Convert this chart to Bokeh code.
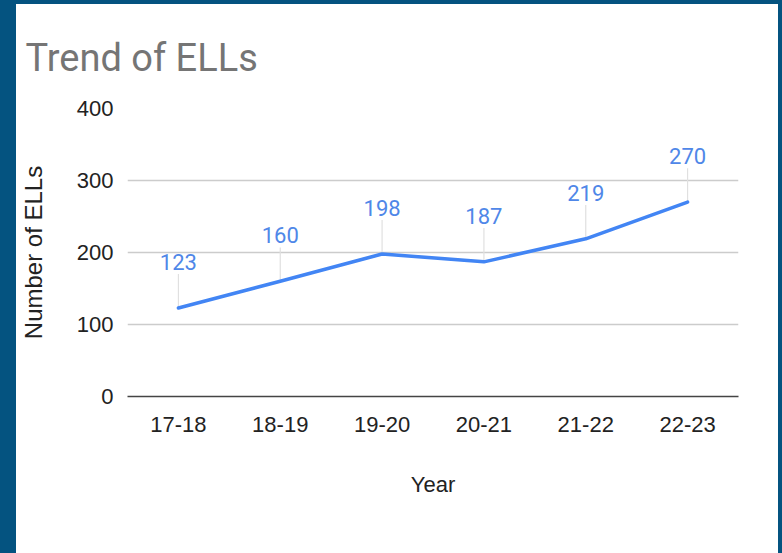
from bokeh.plotting import figure
from bokeh.models import FactorRange, Range1d, FixedTicker
from bokeh.layouts import column
from bokeh.core.properties import value
from bokeh.embed import file_html
from bokeh.resources import INLINE

years = ["17-18", "18-19", "19-20", "20-21", "21-22", "22-23"]
ells = [123, 160, 198, 187, 219, 270]
y_ticks = [0, 100, 200, 300, 400]

title_text = "Trend of ELLs"
x_title = "Year"
y_title = "Number of ELLs"

BLUE = "#4285f4"
LABEL_BLUE = "#4f87e8"
AXIS_FONT = "Liberation Sans"
TXT = "#222222"

p = figure(
    width=762, height=549,
    x_range=FactorRange(factors=years, range_padding=0),
    y_range=Range1d(0, 400),
    output_backend="svg", toolbar_location=None,
    min_border_left=111, min_border_right=40,
    min_border_top=104, min_border_bottom=157,
)
p.margin = (4, 4, 0, 16)
p.styles = {"background-color": "white"}
p.outline_line_color = None
p.background_fill_color = "white"
p.border_fill_color = "white"

# title
p.title.text = title_text
p.title.align = "left"
p.title.offset = -102
p.title.standoff = 58
p.title.text_font = "Roboto"
p.title.text_font_size = "38px"
p.title.text_font_style = "normal"
p.title.text_color = "#757575"

# grid
p.xgrid.grid_line_color = None
p.ygrid.grid_line_color = "#cccccc"
p.ygrid.grid_line_width = 1.5
p.yaxis.ticker = FixedTicker(ticks=y_ticks)

# y axis
p.yaxis.axis_line_color = None
p.yaxis.major_tick_line_color = None
p.yaxis.minor_tick_line_color = None
p.yaxis.major_label_standoff = 8
p.yaxis.major_label_text_font = AXIS_FONT
p.yaxis.major_label_text_font_size = "22px"
p.yaxis.major_label_text_color = TXT
p.yaxis.axis_label = y_title
p.yaxis.axis_label_standoff = 27
p.yaxis.axis_label_text_font = AXIS_FONT
p.yaxis.axis_label_text_font_size = "24px"
p.yaxis.axis_label_text_font_style = "normal"
p.yaxis.axis_label_text_color = TXT

# x axis
p.xaxis.axis_line_color = "#444444"
p.xaxis.axis_line_width = 1.5
p.xaxis.major_tick_line_color = None
p.xaxis.minor_tick_line_color = None
p.xaxis.major_label_standoff = 14
p.xaxis.major_label_text_font = AXIS_FONT
p.xaxis.major_label_text_font_size = "22px"
p.xaxis.major_label_text_color = TXT
p.xaxis.axis_label = x_title
p.xaxis.axis_label_standoff = 37
p.xaxis.axis_label_text_font = AXIS_FONT
p.xaxis.axis_label_text_font_size = "22px"
p.xaxis.axis_label_text_font_style = "normal"
p.xaxis.axis_label_text_color = TXT

# leader lines (label stems), fixed length in data units
stem = 47
p.segment(x0=years, y0=ells, x1=years, y1=[v + stem for v in ells],
          line_color="#e0e0e0", line_width=1.2)

# series line
p.line(x=years, y=ells, line_color=BLUE, line_width=3.5, line_join="round", line_cap="round")

# data labels
p.text(x=years, y=ells, text=[str(v) for v in ells], y_offset=-46,
       text_align="center", text_baseline="alphabetic",
       text_font=value("Roboto"), text_font_size="22px", text_color=LABEL_BLUE)

layout = column(p, styles={"background-color": "#045380"})

open("out.html", "w").write(file_html(layout, INLINE))
